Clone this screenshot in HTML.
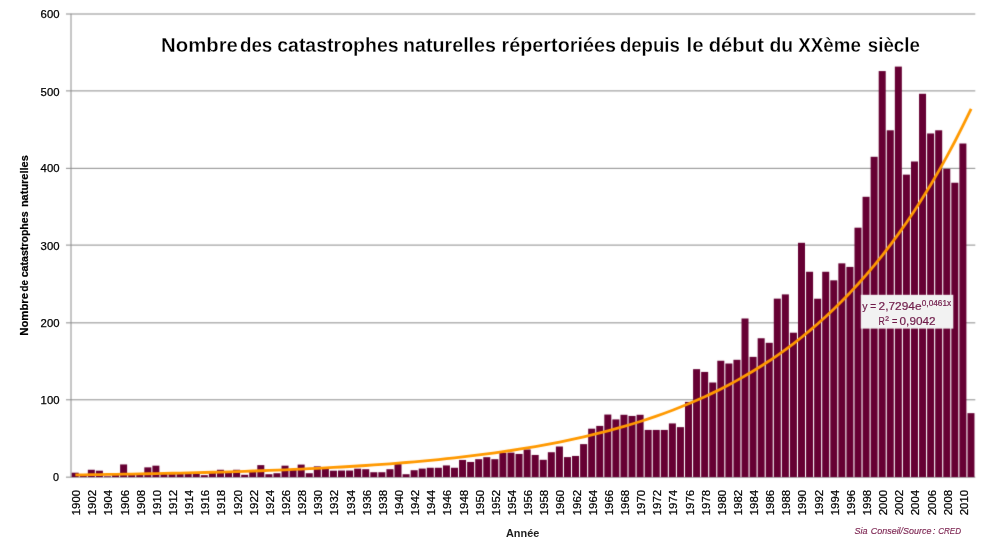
<!DOCTYPE html>
<html lang="fr"><head><meta charset="utf-8"><title>Nombre des catastrophes naturelles</title>
<style>html,body{margin:0;padding:0;background:#fff;}body{width:990px;height:556px;overflow:hidden;}svg{display:block;font-family:"Liberation Sans",sans-serif;}</style></head><body>
<svg width="990" height="556" viewBox="0 0 990 556">
<defs><filter id="soft" x="0" y="0" width="990" height="556" filterUnits="userSpaceOnUse" color-interpolation-filters="sRGB"><feConvolveMatrix order="3" kernelMatrix="0.01134 0.08382 0.01134 0.08382 0.61935 0.08382 0.01134 0.08382 0.01134" divisor="1" edgeMode="duplicate" preserveAlpha="true"/></filter></defs>
<g filter="url(#soft)">
<rect x="-5" y="-5" width="1000" height="566" fill="#fff"/>
<g stroke="#8c8c8c" stroke-width="1" fill="none">
<line x1="66" y1="477.15" x2="975.3" y2="477.15"/>
<line x1="66" y1="399.80" x2="975.3" y2="399.80"/>
<line x1="66" y1="322.85" x2="975.3" y2="322.85"/>
<line x1="66" y1="245.10" x2="975.3" y2="245.10"/>
<line x1="66" y1="168.35" x2="975.3" y2="168.35"/>
<line x1="66" y1="90.90" x2="975.3" y2="90.90"/>
<line x1="66" y1="14.00" x2="975.3" y2="14.00"/>
<line x1="71.0" y1="13.78" x2="71.0" y2="477.10"/>
</g>
<g fill="#fff">
<rect x="78.10" y="474.01" width="2.27" height="2.49"/>
<rect x="86.17" y="474.01" width="2.27" height="2.49"/>
<rect x="94.24" y="470.69" width="2.27" height="5.81"/>
<rect x="102.31" y="476.33" width="2.27" height="0.17"/>
<rect x="110.38" y="476.33" width="2.27" height="0.17"/>
<rect x="118.45" y="474.78" width="2.27" height="1.72"/>
<rect x="126.52" y="474.78" width="2.27" height="1.72"/>
<rect x="134.59" y="474.78" width="2.27" height="1.72"/>
<rect x="142.66" y="474.40" width="2.27" height="2.10"/>
<rect x="150.73" y="467.37" width="2.27" height="9.13"/>
<rect x="158.80" y="473.24" width="2.27" height="3.26"/>
<rect x="166.87" y="473.24" width="2.27" height="3.26"/>
<rect x="174.94" y="473.24" width="2.27" height="3.26"/>
<rect x="183.01" y="473.24" width="2.27" height="3.26"/>
<rect x="191.08" y="472.47" width="2.27" height="4.03"/>
<rect x="199.15" y="475.17" width="2.27" height="1.33"/>
<rect x="207.22" y="475.17" width="2.27" height="1.33"/>
<rect x="215.29" y="472.47" width="2.27" height="4.03"/>
<rect x="223.36" y="471.69" width="2.27" height="4.81"/>
<rect x="231.43" y="471.69" width="2.27" height="4.81"/>
<rect x="239.50" y="474.78" width="2.27" height="1.72"/>
<rect x="247.57" y="474.78" width="2.27" height="1.72"/>
<rect x="255.64" y="470.92" width="2.27" height="5.58"/>
<rect x="263.71" y="474.24" width="2.27" height="2.26"/>
<rect x="271.78" y="474.24" width="2.27" height="2.26"/>
<rect x="279.85" y="473.24" width="2.27" height="3.26"/>
<rect x="287.92" y="469.38" width="2.27" height="7.12"/>
<rect x="295.99" y="469.38" width="2.27" height="7.12"/>
<rect x="304.06" y="473.24" width="2.27" height="3.26"/>
<rect x="312.13" y="473.24" width="2.27" height="3.26"/>
<rect x="320.20" y="467.83" width="2.27" height="8.67"/>
<rect x="328.27" y="470.69" width="2.27" height="5.81"/>
<rect x="336.34" y="470.69" width="2.27" height="5.81"/>
<rect x="344.41" y="470.54" width="2.27" height="5.96"/>
<rect x="352.48" y="470.54" width="2.27" height="5.96"/>
<rect x="360.55" y="469.22" width="2.27" height="7.28"/>
<rect x="368.62" y="472.24" width="2.27" height="4.26"/>
<rect x="376.69" y="472.24" width="2.27" height="4.26"/>
<rect x="384.76" y="472.24" width="2.27" height="4.26"/>
<rect x="392.83" y="469.22" width="2.27" height="7.28"/>
<rect x="400.90" y="474.24" width="2.27" height="2.26"/>
<rect x="408.97" y="474.24" width="2.27" height="2.26"/>
<rect x="417.04" y="470.23" width="2.27" height="6.27"/>
<rect x="425.11" y="468.61" width="2.27" height="7.89"/>
<rect x="433.18" y="467.76" width="2.27" height="8.74"/>
<rect x="441.25" y="467.76" width="2.27" height="8.74"/>
<rect x="449.32" y="467.76" width="2.27" height="8.74"/>
<rect x="457.39" y="467.76" width="2.27" height="8.74"/>
<rect x="465.46" y="461.96" width="2.27" height="14.54"/>
<rect x="473.53" y="461.96" width="2.27" height="14.54"/>
<rect x="481.60" y="459.18" width="2.27" height="17.32"/>
<rect x="489.67" y="459.18" width="2.27" height="17.32"/>
<rect x="497.74" y="459.18" width="2.27" height="17.32"/>
<rect x="505.81" y="452.78" width="2.27" height="23.72"/>
<rect x="513.88" y="453.93" width="2.27" height="22.57"/>
<rect x="521.95" y="453.93" width="2.27" height="22.57"/>
<rect x="530.02" y="454.94" width="2.27" height="21.56"/>
<rect x="538.09" y="459.80" width="2.27" height="16.70"/>
<rect x="546.16" y="459.80" width="2.27" height="16.70"/>
<rect x="554.23" y="452.24" width="2.27" height="24.26"/>
<rect x="562.30" y="457.10" width="2.27" height="19.40"/>
<rect x="570.37" y="457.10" width="2.27" height="19.40"/>
<rect x="578.44" y="455.94" width="2.27" height="20.56"/>
<rect x="586.51" y="444.13" width="2.27" height="32.37"/>
<rect x="594.58" y="428.68" width="2.27" height="47.82"/>
<rect x="602.65" y="425.90" width="2.27" height="50.60"/>
<rect x="610.72" y="419.42" width="2.27" height="57.08"/>
<rect x="618.79" y="419.42" width="2.27" height="57.08"/>
<rect x="626.86" y="415.94" width="2.27" height="60.56"/>
<rect x="634.93" y="415.94" width="2.27" height="60.56"/>
<rect x="643.00" y="429.92" width="2.27" height="46.58"/>
<rect x="651.07" y="429.92" width="2.27" height="46.58"/>
<rect x="659.14" y="429.92" width="2.27" height="46.58"/>
<rect x="667.21" y="429.92" width="2.27" height="46.58"/>
<rect x="675.28" y="427.14" width="2.27" height="49.36"/>
<rect x="683.35" y="427.14" width="2.27" height="49.36"/>
<rect x="691.42" y="401.89" width="2.27" height="74.61"/>
<rect x="699.49" y="371.93" width="2.27" height="104.57"/>
<rect x="707.56" y="382.51" width="2.27" height="93.99"/>
<rect x="715.63" y="382.51" width="2.27" height="93.99"/>
<rect x="723.70" y="363.51" width="2.27" height="112.99"/>
<rect x="731.77" y="363.51" width="2.27" height="112.99"/>
<rect x="739.84" y="359.80" width="2.27" height="116.70"/>
<rect x="747.91" y="356.87" width="2.27" height="119.63"/>
<rect x="755.98" y="356.87" width="2.27" height="119.63"/>
<rect x="764.05" y="342.81" width="2.27" height="133.69"/>
<rect x="772.12" y="342.81" width="2.27" height="133.69"/>
<rect x="780.19" y="298.64" width="2.27" height="177.86"/>
<rect x="788.26" y="332.70" width="2.27" height="143.80"/>
<rect x="796.33" y="332.70" width="2.27" height="143.80"/>
<rect x="804.40" y="271.77" width="2.27" height="204.73"/>
<rect x="812.47" y="298.72" width="2.27" height="177.78"/>
<rect x="820.54" y="298.72" width="2.27" height="177.78"/>
<rect x="828.61" y="280.34" width="2.27" height="196.16"/>
<rect x="836.68" y="280.34" width="2.27" height="196.16"/>
<rect x="844.75" y="266.91" width="2.27" height="209.59"/>
<rect x="852.82" y="266.91" width="2.27" height="209.59"/>
<rect x="860.89" y="227.68" width="2.27" height="248.82"/>
<rect x="868.96" y="196.79" width="2.27" height="279.71"/>
<rect x="877.03" y="156.79" width="2.27" height="319.71"/>
<rect x="885.10" y="130.30" width="2.27" height="346.20"/>
<rect x="893.17" y="130.30" width="2.27" height="346.20"/>
<rect x="901.24" y="174.63" width="2.27" height="301.87"/>
<rect x="909.31" y="174.63" width="2.27" height="301.87"/>
<rect x="917.38" y="161.50" width="2.27" height="315.00"/>
<rect x="925.45" y="133.47" width="2.27" height="343.03"/>
<rect x="933.52" y="133.47" width="2.27" height="343.03"/>
<rect x="941.59" y="168.84" width="2.27" height="307.66"/>
<rect x="949.66" y="182.74" width="2.27" height="293.76"/>
<rect x="957.73" y="182.74" width="2.27" height="293.76"/>
<rect x="965.80" y="413.16" width="2.27" height="63.34"/>
</g>
<g fill="#660033">
<rect x="71.70" y="472.70" width="7.0" height="4.40"/>
<rect x="79.77" y="474.01" width="7.0" height="3.09"/>
<rect x="87.84" y="469.76" width="7.0" height="7.34"/>
<rect x="95.91" y="470.69" width="7.0" height="6.41"/>
<rect x="103.98" y="476.33" width="7.0" height="0.77"/>
<rect x="112.05" y="474.78" width="7.0" height="2.32"/>
<rect x="120.12" y="464.44" width="7.0" height="12.66"/>
<rect x="128.19" y="474.78" width="7.0" height="2.32"/>
<rect x="136.26" y="474.40" width="7.0" height="2.70"/>
<rect x="144.33" y="467.37" width="7.0" height="9.73"/>
<rect x="152.40" y="465.67" width="7.0" height="11.43"/>
<rect x="160.47" y="473.24" width="7.0" height="3.86"/>
<rect x="168.54" y="472.00" width="7.0" height="5.10"/>
<rect x="176.61" y="473.24" width="7.0" height="3.86"/>
<rect x="184.68" y="472.47" width="7.0" height="4.63"/>
<rect x="192.75" y="472.47" width="7.0" height="4.63"/>
<rect x="200.82" y="475.17" width="7.0" height="1.93"/>
<rect x="208.89" y="472.47" width="7.0" height="4.63"/>
<rect x="216.96" y="469.76" width="7.0" height="7.34"/>
<rect x="225.03" y="471.69" width="7.0" height="5.41"/>
<rect x="233.10" y="469.76" width="7.0" height="7.34"/>
<rect x="241.17" y="474.78" width="7.0" height="2.32"/>
<rect x="249.24" y="470.92" width="7.0" height="6.18"/>
<rect x="257.31" y="465.13" width="7.0" height="11.97"/>
<rect x="265.38" y="474.24" width="7.0" height="2.86"/>
<rect x="273.45" y="473.24" width="7.0" height="3.86"/>
<rect x="281.52" y="465.67" width="7.0" height="11.43"/>
<rect x="289.59" y="469.38" width="7.0" height="7.72"/>
<rect x="297.66" y="464.59" width="7.0" height="12.51"/>
<rect x="305.73" y="473.24" width="7.0" height="3.86"/>
<rect x="313.80" y="466.37" width="7.0" height="10.73"/>
<rect x="321.87" y="467.83" width="7.0" height="9.27"/>
<rect x="329.94" y="470.69" width="7.0" height="6.41"/>
<rect x="338.01" y="470.54" width="7.0" height="6.56"/>
<rect x="346.08" y="470.54" width="7.0" height="6.56"/>
<rect x="354.15" y="468.68" width="7.0" height="8.42"/>
<rect x="362.22" y="469.22" width="7.0" height="7.88"/>
<rect x="370.29" y="472.24" width="7.0" height="4.86"/>
<rect x="378.36" y="472.24" width="7.0" height="4.86"/>
<rect x="386.43" y="469.22" width="7.0" height="7.88"/>
<rect x="394.50" y="464.13" width="7.0" height="12.97"/>
<rect x="402.57" y="474.24" width="7.0" height="2.86"/>
<rect x="410.64" y="470.23" width="7.0" height="6.87"/>
<rect x="418.71" y="468.61" width="7.0" height="8.49"/>
<rect x="426.78" y="467.76" width="7.0" height="9.34"/>
<rect x="434.85" y="467.76" width="7.0" height="9.34"/>
<rect x="442.92" y="465.44" width="7.0" height="11.66"/>
<rect x="450.99" y="467.76" width="7.0" height="9.34"/>
<rect x="459.06" y="459.96" width="7.0" height="17.14"/>
<rect x="467.13" y="461.96" width="7.0" height="15.14"/>
<rect x="475.20" y="459.18" width="7.0" height="17.92"/>
<rect x="483.27" y="457.18" width="7.0" height="19.92"/>
<rect x="491.34" y="459.18" width="7.0" height="17.92"/>
<rect x="499.41" y="452.78" width="7.0" height="24.32"/>
<rect x="507.48" y="452.62" width="7.0" height="24.48"/>
<rect x="515.55" y="453.93" width="7.0" height="23.17"/>
<rect x="523.62" y="449.46" width="7.0" height="27.64"/>
<rect x="531.69" y="454.94" width="7.0" height="22.16"/>
<rect x="539.76" y="459.80" width="7.0" height="17.30"/>
<rect x="547.83" y="452.24" width="7.0" height="24.86"/>
<rect x="555.90" y="446.52" width="7.0" height="30.58"/>
<rect x="563.97" y="457.10" width="7.0" height="20.00"/>
<rect x="572.04" y="455.94" width="7.0" height="21.16"/>
<rect x="580.11" y="444.13" width="7.0" height="32.97"/>
<rect x="588.18" y="428.68" width="7.0" height="48.42"/>
<rect x="596.25" y="425.90" width="7.0" height="51.20"/>
<rect x="604.32" y="414.55" width="7.0" height="62.55"/>
<rect x="612.39" y="419.42" width="7.0" height="57.68"/>
<rect x="620.46" y="414.78" width="7.0" height="62.32"/>
<rect x="628.53" y="415.94" width="7.0" height="61.16"/>
<rect x="636.60" y="414.78" width="7.0" height="62.32"/>
<rect x="644.67" y="429.92" width="7.0" height="47.18"/>
<rect x="652.74" y="429.92" width="7.0" height="47.18"/>
<rect x="660.81" y="429.92" width="7.0" height="47.18"/>
<rect x="668.88" y="423.43" width="7.0" height="53.67"/>
<rect x="676.95" y="427.14" width="7.0" height="49.96"/>
<rect x="685.02" y="401.89" width="7.0" height="75.21"/>
<rect x="693.09" y="369.15" width="7.0" height="107.95"/>
<rect x="701.16" y="371.93" width="7.0" height="105.17"/>
<rect x="709.23" y="382.51" width="7.0" height="94.59"/>
<rect x="717.30" y="360.73" width="7.0" height="116.37"/>
<rect x="725.37" y="363.51" width="7.0" height="113.59"/>
<rect x="733.44" y="359.80" width="7.0" height="117.30"/>
<rect x="741.51" y="318.49" width="7.0" height="158.61"/>
<rect x="749.58" y="356.87" width="7.0" height="120.23"/>
<rect x="757.65" y="338.26" width="7.0" height="138.84"/>
<rect x="765.72" y="342.81" width="7.0" height="134.29"/>
<rect x="773.79" y="298.64" width="7.0" height="178.46"/>
<rect x="781.86" y="294.40" width="7.0" height="182.70"/>
<rect x="789.93" y="332.70" width="7.0" height="144.40"/>
<rect x="798.00" y="242.81" width="7.0" height="234.29"/>
<rect x="806.07" y="271.77" width="7.0" height="205.33"/>
<rect x="814.14" y="298.72" width="7.0" height="178.38"/>
<rect x="822.21" y="271.77" width="7.0" height="205.33"/>
<rect x="830.28" y="280.34" width="7.0" height="196.76"/>
<rect x="838.35" y="263.36" width="7.0" height="213.74"/>
<rect x="846.42" y="266.91" width="7.0" height="210.19"/>
<rect x="854.49" y="227.68" width="7.0" height="249.42"/>
<rect x="862.56" y="196.79" width="7.0" height="280.31"/>
<rect x="870.63" y="156.79" width="7.0" height="320.31"/>
<rect x="878.70" y="71.08" width="7.0" height="406.02"/>
<rect x="886.77" y="130.30" width="7.0" height="346.80"/>
<rect x="894.84" y="66.60" width="7.0" height="410.50"/>
<rect x="902.91" y="174.63" width="7.0" height="302.47"/>
<rect x="910.98" y="161.50" width="7.0" height="315.60"/>
<rect x="919.05" y="93.78" width="7.0" height="383.32"/>
<rect x="927.12" y="133.47" width="7.0" height="343.63"/>
<rect x="935.19" y="130.30" width="7.0" height="346.80"/>
<rect x="943.26" y="168.84" width="7.0" height="308.26"/>
<rect x="951.33" y="182.74" width="7.0" height="294.36"/>
<rect x="959.40" y="143.51" width="7.0" height="333.59"/>
<rect x="967.47" y="413.16" width="7.0" height="63.94"/>
</g>
<polyline points="75.33,474.89 83.41,474.79 91.47,474.68 99.55,474.57 107.61,474.45 115.69,474.32 123.75,474.19 131.82,474.05 139.89,473.91 147.97,473.76 156.03,473.60 164.11,473.44 172.18,473.26 180.25,473.08 188.31,472.89 196.38,472.69 204.45,472.49 212.52,472.27 220.60,472.04 228.67,471.80 236.74,471.55 244.81,471.29 252.88,471.01 260.94,470.73 269.01,470.43 277.08,470.11 285.16,469.78 293.23,469.44 301.30,469.08 309.37,468.70 317.44,468.30 325.50,467.89 333.58,467.45 341.65,467.00 349.72,466.52 357.79,466.02 365.86,465.50 373.93,464.95 382.00,464.38 390.06,463.78 398.14,463.15 406.21,462.49 414.28,461.80 422.35,461.08 430.42,460.32 438.49,459.53 446.56,458.70 454.62,457.83 462.70,456.92 470.77,455.97 478.84,454.98 486.91,453.93 494.98,452.84 503.05,451.69 511.12,450.50 519.18,449.24 527.25,447.93 535.33,446.55 543.39,445.11 551.47,443.60 559.53,442.02 567.61,440.36 575.67,438.63 583.75,436.82 591.81,434.91 599.88,432.92 607.95,430.84 616.02,428.66 624.10,426.37 632.16,423.98 640.24,421.47 648.30,418.85 656.38,416.10 664.44,413.22 672.51,410.21 680.58,407.05 688.65,403.75 696.73,400.29 704.79,396.66 712.87,392.87 720.93,388.89 729.00,384.73 737.07,380.38 745.14,375.81 753.22,371.03 761.28,366.03 769.36,360.79 777.42,355.30 785.50,349.55 793.56,343.54 801.63,337.24 809.70,330.64 817.77,323.73 825.85,316.49 833.91,308.91 841.99,300.98 850.05,292.67 858.12,283.97 866.19,274.86 874.26,265.32 882.34,255.32 890.40,244.86 898.48,233.90 906.54,222.43 914.62,210.41 922.68,197.83 930.75,184.66 938.82,170.86 946.89,156.41 954.97,141.28 963.03,125.44 971.11,108.85" fill="none" stroke="#ff9900" stroke-width="2.8" stroke-linejoin="round"/>
<rect x="860.8" y="294.8" width="92.5" height="33.8" fill="#f2f2f2"/>
</g>
<g fill="#701c4a" stroke="#701c4a" stroke-width="0.2" font-size="11.6px">
<text x="862.2" y="310" font-size="11.6px" textLength="5.3" lengthAdjust="spacingAndGlyphs">y</text>
<text x="870.3" y="310" font-size="11.6px" textLength="5.9" lengthAdjust="spacingAndGlyphs">=</text>
<text x="878.6" y="310" font-size="11.6px" textLength="42.9" lengthAdjust="spacingAndGlyphs">2,7294e</text>
<text x="921.8" y="306.4" font-size="8.4px" textLength="29.3" lengthAdjust="spacingAndGlyphs">0,0461x</text>
<text x="878.6" y="324.8" font-size="11.6px" textLength="6.3" lengthAdjust="spacingAndGlyphs">R</text>
<text x="885.3" y="323.8" font-size="10.5px" textLength="3.7" lengthAdjust="spacingAndGlyphs">²</text>
<text x="891.9" y="324.8" font-size="11.6px" textLength="5.4" lengthAdjust="spacingAndGlyphs">=</text>
<text x="899.6" y="324.8" font-size="11.6px" textLength="35.9" lengthAdjust="spacingAndGlyphs">0,9042</text>
</g>
<g fill="#000" stroke="#000" stroke-width="0.25" font-size="10.8px">
<text x="52.9" y="481">0</text>
<text x="40.6" y="404" textLength="18.9" lengthAdjust="spacingAndGlyphs">100</text>
<text x="40.6" y="327" textLength="18.9" lengthAdjust="spacingAndGlyphs">200</text>
<text x="40.6" y="250" textLength="18.9" lengthAdjust="spacingAndGlyphs">300</text>
<text x="40.6" y="172" textLength="18.9" lengthAdjust="spacingAndGlyphs">400</text>
<text x="40.6" y="96" textLength="18.9" lengthAdjust="spacingAndGlyphs">500</text>
<text x="40.6" y="18" textLength="18.9" lengthAdjust="spacingAndGlyphs">600</text>
</g>
<g fill="#000" stroke="#000" stroke-width="0.25" font-size="10.8px">
<text transform="translate(80.19,515.2) rotate(-90)" textLength="25.3" lengthAdjust="spacingAndGlyphs">1900</text>
<text transform="translate(96.33,515.2) rotate(-90)" textLength="25.3" lengthAdjust="spacingAndGlyphs">1902</text>
<text transform="translate(112.47,515.2) rotate(-90)" textLength="25.3" lengthAdjust="spacingAndGlyphs">1904</text>
<text transform="translate(128.60,515.2) rotate(-90)" textLength="25.3" lengthAdjust="spacingAndGlyphs">1906</text>
<text transform="translate(144.74,515.2) rotate(-90)" textLength="25.3" lengthAdjust="spacingAndGlyphs">1908</text>
<text transform="translate(160.88,515.2) rotate(-90)" textLength="25.3" lengthAdjust="spacingAndGlyphs">1910</text>
<text transform="translate(177.03,515.2) rotate(-90)" textLength="25.3" lengthAdjust="spacingAndGlyphs">1912</text>
<text transform="translate(193.16,515.2) rotate(-90)" textLength="25.3" lengthAdjust="spacingAndGlyphs">1914</text>
<text transform="translate(209.30,515.2) rotate(-90)" textLength="25.3" lengthAdjust="spacingAndGlyphs">1916</text>
<text transform="translate(225.45,515.2) rotate(-90)" textLength="25.3" lengthAdjust="spacingAndGlyphs">1918</text>
<text transform="translate(241.59,515.2) rotate(-90)" textLength="25.3" lengthAdjust="spacingAndGlyphs">1920</text>
<text transform="translate(257.72,515.2) rotate(-90)" textLength="25.3" lengthAdjust="spacingAndGlyphs">1922</text>
<text transform="translate(273.86,515.2) rotate(-90)" textLength="25.3" lengthAdjust="spacingAndGlyphs">1924</text>
<text transform="translate(290.00,515.2) rotate(-90)" textLength="25.3" lengthAdjust="spacingAndGlyphs">1926</text>
<text transform="translate(306.14,515.2) rotate(-90)" textLength="25.3" lengthAdjust="spacingAndGlyphs">1928</text>
<text transform="translate(322.28,515.2) rotate(-90)" textLength="25.3" lengthAdjust="spacingAndGlyphs">1930</text>
<text transform="translate(338.43,515.2) rotate(-90)" textLength="25.3" lengthAdjust="spacingAndGlyphs">1932</text>
<text transform="translate(354.56,515.2) rotate(-90)" textLength="25.3" lengthAdjust="spacingAndGlyphs">1934</text>
<text transform="translate(370.70,515.2) rotate(-90)" textLength="25.3" lengthAdjust="spacingAndGlyphs">1936</text>
<text transform="translate(386.84,515.2) rotate(-90)" textLength="25.3" lengthAdjust="spacingAndGlyphs">1938</text>
<text transform="translate(402.99,515.2) rotate(-90)" textLength="25.3" lengthAdjust="spacingAndGlyphs">1940</text>
<text transform="translate(419.12,515.2) rotate(-90)" textLength="25.3" lengthAdjust="spacingAndGlyphs">1942</text>
<text transform="translate(435.26,515.2) rotate(-90)" textLength="25.3" lengthAdjust="spacingAndGlyphs">1944</text>
<text transform="translate(451.40,515.2) rotate(-90)" textLength="25.3" lengthAdjust="spacingAndGlyphs">1946</text>
<text transform="translate(467.55,515.2) rotate(-90)" textLength="25.3" lengthAdjust="spacingAndGlyphs">1948</text>
<text transform="translate(483.69,515.2) rotate(-90)" textLength="25.3" lengthAdjust="spacingAndGlyphs">1950</text>
<text transform="translate(499.82,515.2) rotate(-90)" textLength="25.3" lengthAdjust="spacingAndGlyphs">1952</text>
<text transform="translate(515.97,515.2) rotate(-90)" textLength="25.3" lengthAdjust="spacingAndGlyphs">1954</text>
<text transform="translate(532.11,515.2) rotate(-90)" textLength="25.3" lengthAdjust="spacingAndGlyphs">1956</text>
<text transform="translate(548.25,515.2) rotate(-90)" textLength="25.3" lengthAdjust="spacingAndGlyphs">1958</text>
<text transform="translate(564.38,515.2) rotate(-90)" textLength="25.3" lengthAdjust="spacingAndGlyphs">1960</text>
<text transform="translate(580.52,515.2) rotate(-90)" textLength="25.3" lengthAdjust="spacingAndGlyphs">1962</text>
<text transform="translate(596.66,515.2) rotate(-90)" textLength="25.3" lengthAdjust="spacingAndGlyphs">1964</text>
<text transform="translate(612.80,515.2) rotate(-90)" textLength="25.3" lengthAdjust="spacingAndGlyphs">1966</text>
<text transform="translate(628.95,515.2) rotate(-90)" textLength="25.3" lengthAdjust="spacingAndGlyphs">1968</text>
<text transform="translate(645.09,515.2) rotate(-90)" textLength="25.3" lengthAdjust="spacingAndGlyphs">1970</text>
<text transform="translate(661.23,515.2) rotate(-90)" textLength="25.3" lengthAdjust="spacingAndGlyphs">1972</text>
<text transform="translate(677.37,515.2) rotate(-90)" textLength="25.3" lengthAdjust="spacingAndGlyphs">1974</text>
<text transform="translate(693.50,515.2) rotate(-90)" textLength="25.3" lengthAdjust="spacingAndGlyphs">1976</text>
<text transform="translate(709.64,515.2) rotate(-90)" textLength="25.3" lengthAdjust="spacingAndGlyphs">1978</text>
<text transform="translate(725.78,515.2) rotate(-90)" textLength="25.3" lengthAdjust="spacingAndGlyphs">1980</text>
<text transform="translate(741.92,515.2) rotate(-90)" textLength="25.3" lengthAdjust="spacingAndGlyphs">1982</text>
<text transform="translate(758.07,515.2) rotate(-90)" textLength="25.3" lengthAdjust="spacingAndGlyphs">1984</text>
<text transform="translate(774.21,515.2) rotate(-90)" textLength="25.3" lengthAdjust="spacingAndGlyphs">1986</text>
<text transform="translate(790.35,515.2) rotate(-90)" textLength="25.3" lengthAdjust="spacingAndGlyphs">1988</text>
<text transform="translate(806.49,515.2) rotate(-90)" textLength="25.3" lengthAdjust="spacingAndGlyphs">1990</text>
<text transform="translate(822.62,515.2) rotate(-90)" textLength="25.3" lengthAdjust="spacingAndGlyphs">1992</text>
<text transform="translate(838.76,515.2) rotate(-90)" textLength="25.3" lengthAdjust="spacingAndGlyphs">1994</text>
<text transform="translate(854.90,515.2) rotate(-90)" textLength="25.3" lengthAdjust="spacingAndGlyphs">1996</text>
<text transform="translate(871.04,515.2) rotate(-90)" textLength="25.3" lengthAdjust="spacingAndGlyphs">1998</text>
<text transform="translate(887.19,515.2) rotate(-90)" textLength="25.3" lengthAdjust="spacingAndGlyphs">2000</text>
<text transform="translate(903.33,515.2) rotate(-90)" textLength="25.3" lengthAdjust="spacingAndGlyphs">2002</text>
<text transform="translate(919.47,515.2) rotate(-90)" textLength="25.3" lengthAdjust="spacingAndGlyphs">2004</text>
<text transform="translate(935.61,515.2) rotate(-90)" textLength="25.3" lengthAdjust="spacingAndGlyphs">2006</text>
<text transform="translate(951.75,515.2) rotate(-90)" textLength="25.3" lengthAdjust="spacingAndGlyphs">2008</text>
<text transform="translate(967.88,515.2) rotate(-90)" textLength="25.3" lengthAdjust="spacingAndGlyphs">2010</text>
</g>
<g fill="#000" stroke="#fff" stroke-width="0.3" font-weight="bold" font-size="19.6px">
<text x="161.1" y="52.2" textLength="76.8" lengthAdjust="spacingAndGlyphs">Nombre</text>
<text x="239.9" y="52.2" textLength="32.4" lengthAdjust="spacingAndGlyphs">des</text>
<text x="277.2" y="52.2" textLength="121.4" lengthAdjust="spacingAndGlyphs">catastrophes</text>
<text x="403.0" y="52.2" textLength="93.0" lengthAdjust="spacingAndGlyphs">naturelles</text>
<text x="501.6" y="52.2" textLength="114.3" lengthAdjust="spacingAndGlyphs">répertoriées</text>
<text x="619.9" y="52.2" textLength="60.0" lengthAdjust="spacingAndGlyphs">depuis</text>
<text x="686.5" y="52.2" textLength="17.1" lengthAdjust="spacingAndGlyphs">le</text>
<text x="708.7" y="52.2" textLength="55.2" lengthAdjust="spacingAndGlyphs">début</text>
<text x="769.5" y="52.2" textLength="23.7" lengthAdjust="spacingAndGlyphs">du</text>
<text x="798.3" y="52.2" textLength="62.6" lengthAdjust="spacingAndGlyphs">XXème</text>
<text x="867.8" y="52.2" textLength="52.0" lengthAdjust="spacingAndGlyphs">siècle</text>
</g>
<text x="506" y="537" font-weight="bold" font-size="10.2px" fill="#1c1c1c" textLength="33.3" lengthAdjust="spacingAndGlyphs">Année</text>
<g font-weight="bold" font-size="10.4px" fill="#000" stroke="#000" stroke-width="0.2">
<text transform="translate(27.8,335.8) rotate(-90)" textLength="42.9" lengthAdjust="spacingAndGlyphs">Nombre</text>
<text transform="translate(27.8,291.4) rotate(-90)" textLength="11.3" lengthAdjust="spacingAndGlyphs">de</text>
<text transform="translate(27.8,277.3) rotate(-90)" textLength="65.9" lengthAdjust="spacingAndGlyphs">catastrophes</text>
<text transform="translate(27.8,207.1) rotate(-90)" textLength="51.9" lengthAdjust="spacingAndGlyphs">naturelles</text>
</g>
<g font-style="italic" font-size="9.9px" fill="#7d2552" stroke="#7d2552" stroke-width="0.15">
<text x="854.5" y="533.9" textLength="13.1" lengthAdjust="spacingAndGlyphs">Sia</text>
<text x="870.8" y="533.9" textLength="60.6" lengthAdjust="spacingAndGlyphs">Conseil/Source</text>
<text x="932.7" y="533.9" textLength="2.7" lengthAdjust="spacingAndGlyphs">:</text>
<text x="938.2" y="533.9" textLength="22.8" lengthAdjust="spacingAndGlyphs">CRED</text>
</g>
</svg></body></html>
